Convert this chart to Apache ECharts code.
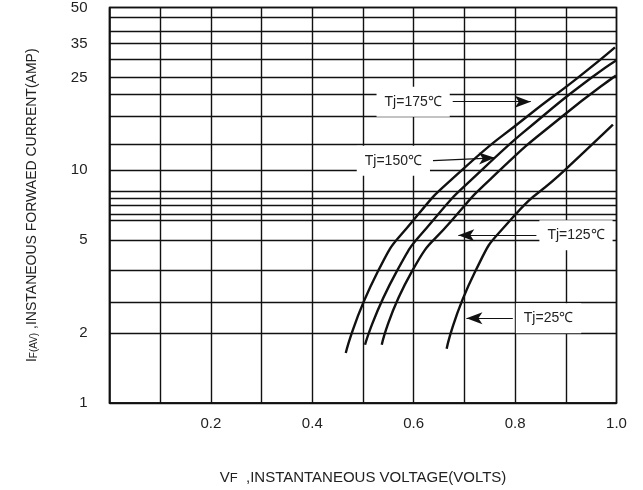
<!DOCTYPE html>
<html><head><meta charset="utf-8">
<script src="https://cdn.jsdelivr.net/npm/echarts@6/dist/echarts.min.js"></script>
<style>html,body{margin:0;padding:0;background:#fff}#c{width:643px;height:490px}</style>
</head><body><div id="c"></div>
<script>
// Y axis (current, A) labels and grid lines
const yLabelValues = [1, 2, 5, 10, 25, 35, 50];
const yGridValues = [1, 2, 2.7, 3.7, 5, 6.1, 6.5, 7.1, 7.6, 8.1, 10, 12.9, 17.1, 21.2, 25, 29.9, 35, 39.7, 45.2, 50];
// X axis (voltage, V) labels
const xLabelValues = [0.2, 0.4, 0.6, 0.8, 1.0];

// Curves: [VF (V), IF (A)]
const curve175 = [[0.466,1.64],[0.529,3.66],[0.599,6.08],[0.695,10],[0.825,17.1],[0.924,25],[0.997,33.7]];
const curve150 = [[0.504,1.78],[0.566,3.66],[0.638,6.08],[0.734,10],[0.855,17.1],[0.951,25],[1.0,29.7]];
const curve125 = [[0.537,1.78],[0.596,3.66],[0.675,6.08],[0.770,10],[0.894,17.1],[0.999,25.5]];
const curve25  = [[0.665,1.71],[0.721,3.66],[0.790,6.08],[0.898,10],[0.993,15.7]];

const curveNames = ['Tj=175℃', 'Tj=150℃', 'Tj=125℃', 'Tj=25℃'];
const curves = [curve175, curve150, curve125, curve25];

// Annotation arrows: label, tail [V, A], head [V, A]
const annotations = [
  ['Tj=175℃', [0.677, 19.7], [0.831, 19.7]],
  ['Tj=150℃', [0.638, 11.0], [0.760, 11.3]],
  ['Tj=125℃', [0.842, 5.25], [0.688, 5.25]],
  ['Tj=25℃',  [0.7955, 2.31], [0.704, 2.31]]
];

const chart = echarts.init(document.getElementById('c'), null, {renderer: 'canvas'});
const txt = '#222';
const font = 'Liberation Sans, Arial, sans-serif';

const series = curves.map((d, i) => ({
  name: curveNames[i],
  type: 'line',
  data: d,
  smooth: 0.6,
  symbol: 'none',
  lineStyle: {color: '#111', width: 2.4},
  z: 3
}));

annotations.forEach(a => {
  series.push({
    type: 'line',
    data: [],
    z: 4,
    markLine: {
      silent: true,
      animation: false,
      symbol: ['none', 'arrow'],
      symbolSize: [9, 16],
      lineStyle: {color: '#111', width: 1.2, type: 'solid'},
      label: {
        show: true,
        position: 'start',
        formatter: a[0],
        color: txt,
        fontFamily: font,
        fontSize: 14,
        backgroundColor: '#fff',
        padding: [8, 8, 8, 8],
        distance: 3
      },
      data: [[{coord: a[1]}, {coord: a[2]}]]
    }
  });
});

chart.setOption({
  animation: false,
  backgroundColor: '#fff',
  grid: {left: 109.5, right: 26.5, top: 7, bottom: 82, show: true, borderColor: '#111', borderWidth: 1.5, backgroundColor: 'transparent', containLabel: false},
  xAxis: {
    type: 'value', min: 0, max: 1, interval: 0.1,
    axisLine: {show: true, lineStyle: {color: '#111', width: 1.5}},
    axisTick: {show: false},
    splitLine: {show: true, lineStyle: {color: '#111', width: 1.4}},
    axisLabel: {customValues: xLabelValues, formatter: v => v.toFixed(1), color: txt, fontSize: 15, fontFamily: font, margin: 13},
    name: '{v|V}{f|F}{t|  ,INSTANTANEOUS VOLTAGE(VOLTS)}',
    nameLocation: 'middle', nameGap: 62,
    nameTextStyle: {
      rich: {
        v: {fontSize: 15, color: txt, fontFamily: font, lineHeight: 20, verticalAlign: 'bottom'},
        f: {fontSize: 13, color: txt, fontFamily: font, padding: [6, 0, 0, 0], verticalAlign: 'bottom'},
        t: {fontSize: 15, color: txt, fontFamily: font, lineHeight: 20, verticalAlign: 'bottom'}
      }
    }
  },
  yAxis: {
    type: 'log', logBase: 10, min: 1, max: 50,
    axisLine: {show: true, lineStyle: {color: '#111', width: 1.5}},
    axisTick: {show: false, customValues: yGridValues},
    splitLine: {show: true, lineStyle: {color: '#111', width: 1.4}},
    minorSplitLine: {show: false},
    axisLabel: {customValues: yLabelValues, formatter: v => String(Math.round(v)), color: txt, fontSize: 15, fontFamily: font, margin: 22},
    name: '{i|I}{s|F(AV)}{t| ,INSTANEOUS FORWAED CURRENT(AMP)}',
    nameLocation: 'middle', nameGap: 70, nameRotate: 90,
    nameTextStyle: {
      rich: {
        i: {fontSize: 14, color: txt, fontFamily: font, lineHeight: 18, verticalAlign: 'bottom'},
        s: {fontSize: 10, color: txt, fontFamily: font, padding: [5, 0, 0, 0], verticalAlign: 'bottom'},
        t: {fontSize: 14, color: txt, fontFamily: font, lineHeight: 18, verticalAlign: 'bottom'}
      }
    }
  },
  series: series
});
</script>
</body></html>
